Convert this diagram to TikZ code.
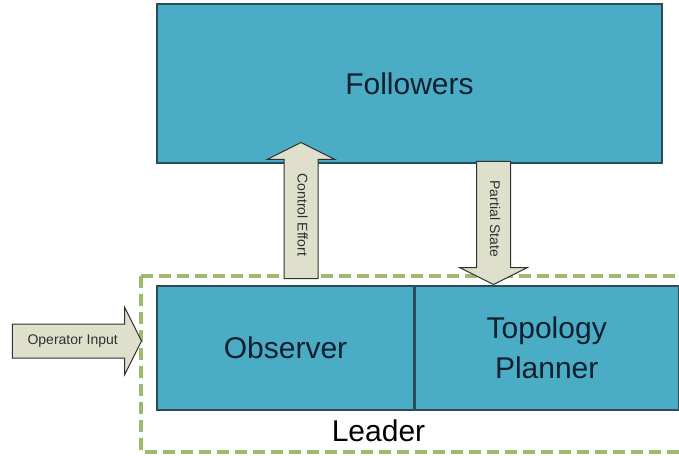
\documentclass[tikz,border=0pt]{standalone}
\usepackage{fontspec}
\setmainfont{Liberation Sans}
\usetikzlibrary{shapes.arrows,positioning}
\definecolor{boxfill}{HTML}{4BACC6}
\definecolor{boxline}{HTML}{2B4A5A}
\definecolor{boxtext}{HTML}{10202E}
\definecolor{arrowfill}{HTML}{DEE0CC}
\definecolor{arrowline}{HTML}{303030}
\definecolor{leadergreen}{HTML}{9FB96E}
\newcommand\blockfont{\fontsize{30}{40}\selectfont}
\newcommand\flowfont{\fontsize{14}{16}\selectfont}

\begin{document}
\begin{tikzpicture}[x=1pt,y=-1pt]
  \tikzset{
    block/.style={draw=boxline,line width=1.2pt,fill=boxfill,text=boxtext,
      font=\blockfont,inner sep=0pt,align=center},
    flow/.style={single arrow,draw=arrowline,line width=1pt,fill=arrowfill,
      font=\flowfont,text=arrowline,inner xsep=0pt,inner ysep=10pt,
      text height=10pt,text depth=3pt,
      single arrow head extend=16.5pt,single arrow tip angle=127},
    group/.style={draw=leadergreen,line width=3.4pt,dash pattern=on 12pt off 6pt},
  }
  \useasboundingbox (0,0) rectangle (679,455);
  \clip (0,0) rectangle (679,455);

  % leader group
  \draw[group] (141,276) rectangle (700,452);
  \node[font=\blockfont,anchor=base] (lead) at (378.5,441) {Leader};

  % blocks
  \node[block,minimum width=505,minimum height=159] (fol) at (409.5,83.5) {Followers};
  \node[block,minimum width=257,minimum height=124] (obs) at (285.5,348) {Observer};
  \node[block,minimum width=263,minimum height=124] (top) [right=0pt of obs]
    {Topology\\Planner};

  % block arrows
  \node[flow,rotate=-90,shape border rotate=180,minimum height=136,anchor=tip]
    (ctrl) at (301,142) {Control Effort};
  \node[flow,rotate=-90,minimum height=123,anchor=tip]
    (part) at (493.5,285) {Partial State};
  \node[flow,minimum height=129,anchor=tip] (oper) at (142,341) {Operator Input};
\end{tikzpicture}
\end{document}
